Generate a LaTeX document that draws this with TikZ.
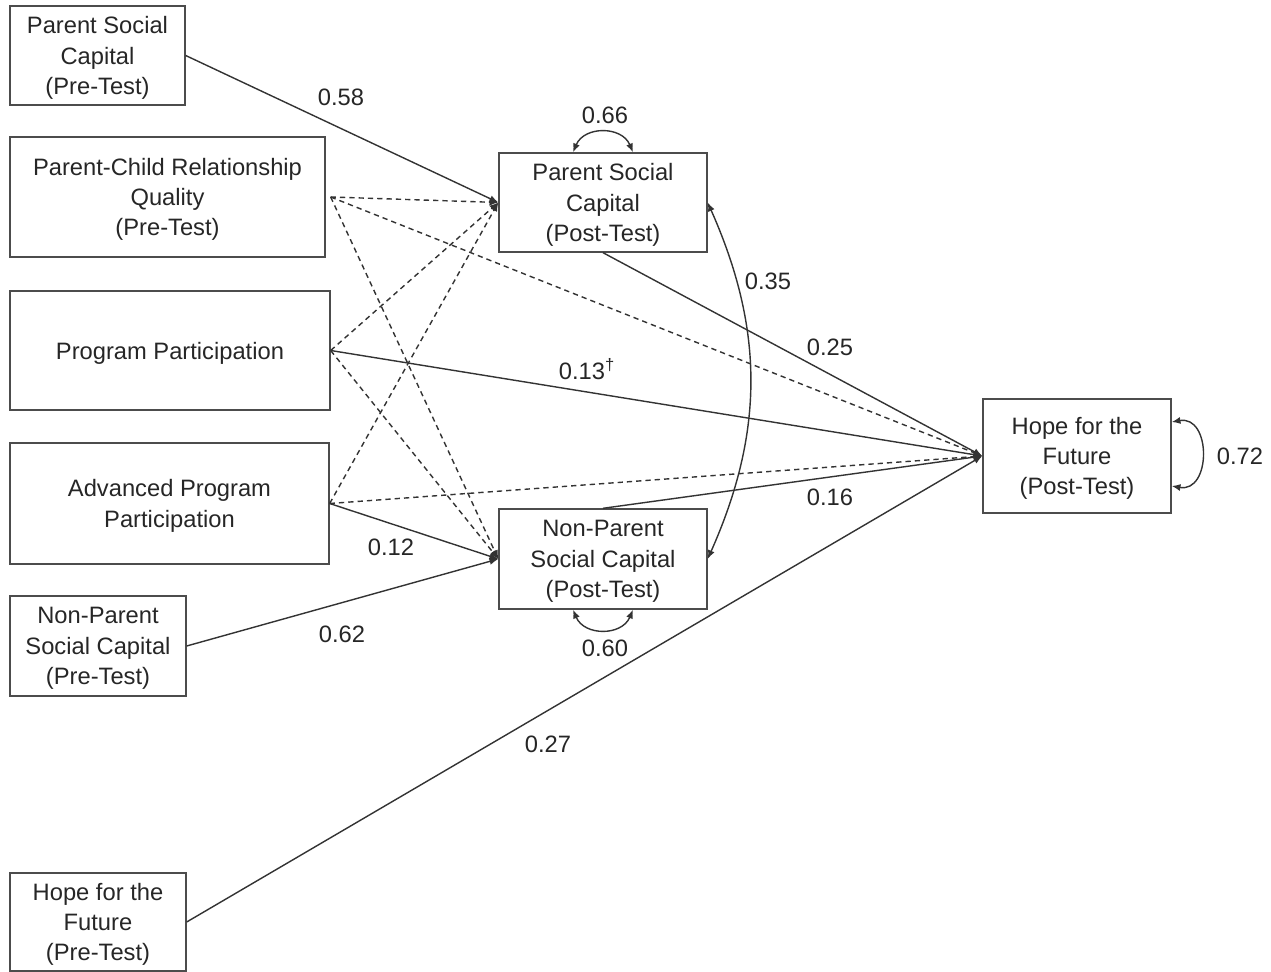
\documentclass[tikz,border=0pt]{standalone}
\usepackage{fontspec}
\setmainfont{Liberation Sans}
\usetikzlibrary{arrows.meta, calc}

\begin{document}
\begin{tikzpicture}[
  x=0.02cm, y=-0.02cm,
  font=\fontsize{13.5}{17.3}\selectfont,
  varbox/.style={draw=black!70, line width=0.8pt, align=center, inner sep=2pt, text=black!85, text depth=0pt},
  reg/.style={-{Latex[length=5pt,width=4pt]}, line width=0.8pt, draw=black!80},
  nsreg/.style={reg, dash pattern=on 3pt off 2.3pt},
  cov/.style={{Latex[length=5pt,width=4pt]}-{Latex[length=5pt,width=4pt]}, line width=0.8pt, draw=black!80},
  coef/.style={text=black!85, inner sep=1pt}
]
\useasboundingbox (0,0) rectangle (1271,972);

% --- Pre-test variables and program (left column) ---
\node[varbox, minimum width=3.5cm,  minimum height=1.98cm] (psc1)  at (97.5,55.5) {Parent Social\\Capital\\(Pre-Test)};
\node[varbox, minimum width=6.3cm,  minimum height=2.4cm]  (pcrq)  at (167.5,197) {Parent-Child Relationship\\Quality\\(Pre-Test)};
\node[varbox, minimum width=6.4cm,  minimum height=2.38cm] (pp)    at (170,350.5) {Program Participation};
\node[varbox, minimum width=6.38cm, minimum height=2.42cm] (app)   at (169.5,503.5) {Advanced Program\\Participation};
\node[varbox, minimum width=3.52cm, minimum height=2.0cm]  (npsc1) at (98,646) {Non-Parent\\Social Capital\\(Pre-Test)};
\node[varbox, minimum width=3.52cm, minimum height=1.96cm] (hff1)  at (98,922) {Hope for the\\Future\\(Pre-Test)};

% --- Post-test mediators and outcome ---
\node[varbox, minimum width=4.16cm, minimum height=1.98cm] (psc2)  at (603,202.5) {Parent Social\\Capital\\(Post-Test)};
\node[varbox, minimum width=4.16cm, minimum height=2.0cm]  (npsc2) at (603,559) {Non-Parent\\Social Capital\\(Post-Test)};
\node[varbox, minimum width=3.76cm, minimum height=2.28cm] (hff2)  at (1077,456) {Hope for the\\Future\\(Post-Test)};

% non-significant paths
\draw[nsreg] ([xshift=0.1cm]pcrq.east) -- (psc2.west);
\draw[nsreg] ([xshift=0.1cm]pcrq.east) -- (npsc2.west);
\draw[nsreg] ([xshift=0.1cm]pcrq.east) -- (hff2.west);
\draw[nsreg] (pp.east) -- (psc2.west);
\draw[nsreg] (pp.east) -- (npsc2.west);
\draw[nsreg] (app.east) -- (psc2.west);
\draw[nsreg] (app.east) -- (hff2.west);

% significant paths
\draw[reg] (psc1.east) -- (psc2.west);
\draw[reg] (pp.east) -- (hff2.west);
\draw[reg] (app.east) -- (npsc2.west);
\draw[reg] (npsc1.east) -- (npsc2.west);
\draw[reg] (hff1.east) -- (hff2.west);
\draw[reg] (psc2.south) -- (hff2.west);
\draw[reg] (npsc2.north) -- (hff2.west);

% residual covariance and variances
\draw[cov] (psc2.east) to[bend left=24] (npsc2.east);
\draw[cov] ($(psc2.north)+(-30,0)$) to[out=67, in=113, looseness=1.23] ($(psc2.north)+(30,0)$);
\draw[cov] ($(npsc2.south)+(-30,0)$) to[out=-67, in=-113, looseness=1.23] ($(npsc2.south)+(30,0)$);
\draw[cov] ($(hff2.east)+(0,-34)$) to[out=10, in=-10, looseness=1.62] ($(hff2.east)+(0,30)$);

% coefficients
\node[coef] (c58) at (341,97)   {0.58};
\node[coef] (c66) at (605,115)  {0.66};
\node[coef] (c35) at (768,281)  {0.35};
\node[coef] (c25) at (830,347)  {0.25};
\node[coef] (c13) at (587,369)  {0.13\textsuperscript{†}};
\node[coef] (c16) at (830,497)  {0.16};
\node[coef] (c72) at (1240,456) {0.72};
\node[coef] (c12) at (391,547)  {0.12};
\node[coef] (c62) at (342,634)  {0.62};
\node[coef] (c60) at (605,648)  {0.60};
\node[coef] (c27) at (548,744)  {0.27};

\end{tikzpicture}
\end{document}
